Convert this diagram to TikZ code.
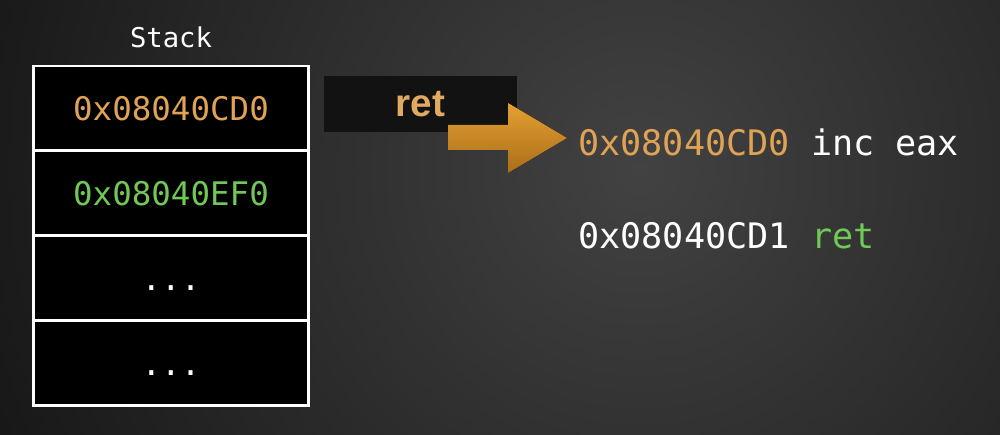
\documentclass[tikz,border=0pt]{standalone}
\usepackage{fontspec}
\setmainfont{Liberation Sans}
\setmonofont{DejaVu Sans Mono}
\usepackage{tikz}
\usetikzlibrary{positioning,calc}
\definecolor{addrorange}{RGB}{224,162,84}
\definecolor{retgreen}{RGB}{112,200,86}
\definecolor{arrowtop}{RGB}{228,160,50}
\definecolor{arrowbottom}{RGB}{170,110,25}
\definecolor{bgcenter}{RGB}{66,66,66}
\definecolor{bgouter}{RGB}{16,16,16}
\tikzset{
  stackcell/.style={rectangle, draw=white, fill=black, line width=1.7pt, outer sep=0pt,
    minimum width=5.52cm, minimum height=1.7cm, font=\ttfamily\fontsize{18.5}{20}\selectfont,
    text height=13.5pt, text depth=0pt, inner sep=0pt},
  instr/.style={anchor=west, inner sep=0pt, text=white, font=\ttfamily\fontsize{20}{22}\selectfont},
  opbox/.style={rectangle, fill=black!93, minimum width=3.86cm, minimum height=1.12cm,
    font=\bfseries\fontsize{22}{24}\selectfont, text=addrorange!92!white},
  bigarrow/.style={top color=arrowtop, bottom color=arrowbottom, draw=none}
}
\begin{document}
\begin{tikzpicture}[x=0.02cm, y=-0.02cm]
    \useasboundingbox (0,0) rectangle (1000,435);
    % Background
    \begin{scope}
      \clip (0,0) rectangle (1000,435);
      \fill[bgouter] (0,0) rectangle (1000,435);
      \shade[inner color=bgcenter, outer color=bgouter] (640,170) circle (820);
    \end{scope}

    % Stack
    \node[stackcell, text=addrorange] (cell1) at (171,108.5) {0x08040CD0};
    \node[stackcell, text=retgreen, below=0pt of cell1] (cell2) {0x08040EF0};
    \node[stackcell, text=white, below=0pt of cell2] (cell3) {...};
    \node[stackcell, text=white, below=0pt of cell3] (cell4) {...};
    \node[text=white, font=\ttfamily\fontsize{15.5}{17}\selectfont, above=7pt of cell1] (stacklabel) {Stack};

    % Instructions
    \node[instr] (instr1) at (578,142) {\textcolor{addrorange}{0x08040CD0} inc eax};
    \node[instr] (instr2) at (578,236) {0x08040CD1 \textcolor{retgreen}{ret}};

    % Operation and jump
    \node[opbox] (retop) at (420.5,104) {ret};
    \coordinate (tip) at ($(instr1.west)+(-11,-4)$);
    \fill[bigarrow] (448,125) -- (508,125) -- (508,103) -- (tip) -- (508,173) -- (508,150) -- (448,150) -- cycle;
\end{tikzpicture}
\end{document}
